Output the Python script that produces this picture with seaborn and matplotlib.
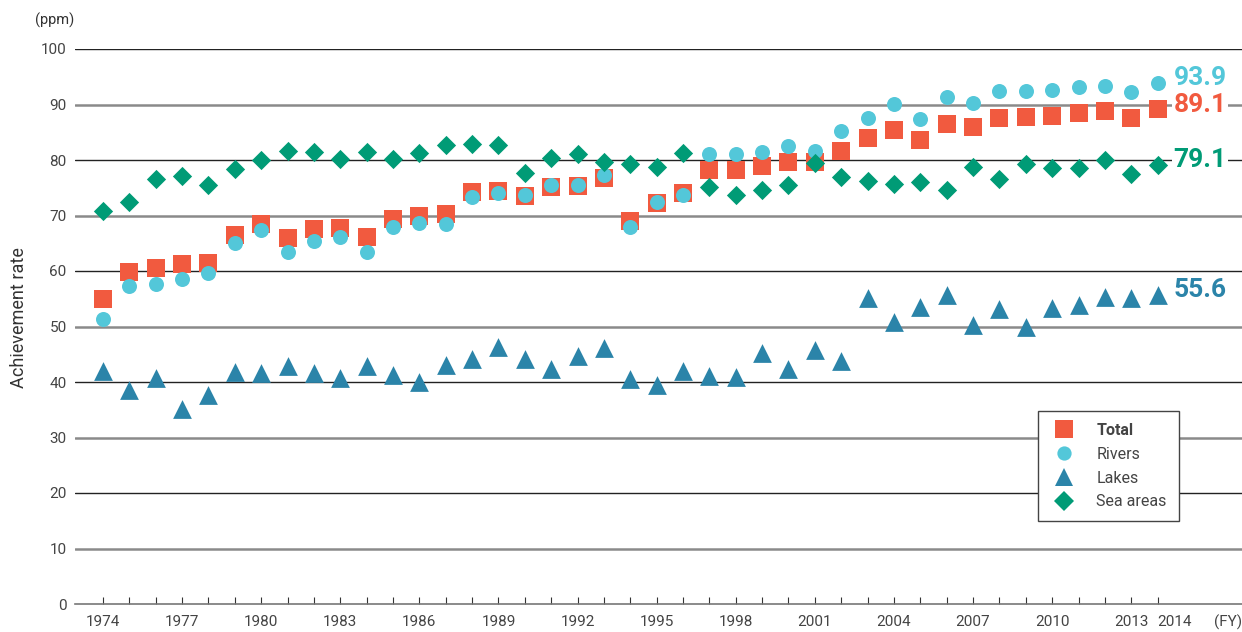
import matplotlib
matplotlib.use("Agg")
import matplotlib.pyplot as plt
from matplotlib.lines import Line2D
import seaborn as sns
import pandas as pd

years = list(range(1974, 2015))

total = [55.0, 59.8, 60.5, 61.3, 61.4, 66.5, 68.5, 65.9, 67.6, 67.7,
         66.1, 69.4, 69.9, 70.3, 74.2, 74.4, 73.5, 75.1, 75.3, 76.8,
         69.0, 72.3, 74.1, 78.2, 78.2, 78.9, 79.6, 79.6, 81.6, 84.0,
         85.4, 83.6, 86.5, 85.9, 87.6, 87.7, 87.9, 88.5, 88.8, 87.6, 89.1]

rivers = [51.4, 57.3, 57.7, 58.6, 59.6, 65.1, 67.4, 63.4, 65.4, 66.1,
          63.4, 67.9, 68.7, 68.5, 73.4, 74.0, 73.7, 75.5, 75.5, 77.3,
          67.9, 72.4, 73.7, 81.1, 81.1, 81.5, 82.5, 81.6, 85.2, 87.6,
          90.1, 87.4, 91.3, 90.2, 92.4, 92.4, 92.6, 93.2, 93.3, 92.2, 93.9]

lakes = [41.9, 38.6, 40.7, 35.2, 37.7, 41.8, 41.6, 42.8, 41.7, 40.8,
         42.8, 41.2, 40.0, 43.1, 44.2, 46.3, 44.2, 42.3, 44.6, 46.1,
         40.6, 39.5, 42.0, 41.0, 40.9, 45.2, 42.3, 45.8, 43.8, 55.2,
         50.9, 53.6, 55.6, 50.3, 53.1, 50.0, 53.3, 53.8, 55.4, 55.1, 55.6]

sea = [70.8, 72.4, 76.6, 77.1, 75.5, 78.4, 80.0, 81.6, 81.4, 80.2,
       81.4, 80.2, 81.3, 82.7, 82.9, 82.7, 77.7, 80.3, 81.1, 79.7,
       79.3, 78.8, 81.2, 75.1, 73.7, 74.6, 75.5, 79.4, 76.9, 76.3,
       75.6, 76.1, 74.6, 78.8, 76.5, 79.2, 78.5, 78.5, 80.0, 77.4, 79.1]

series_names = ["Total", "Rivers", "Lakes", "Sea areas"]
x_tick_labels = [1974, 1977, 1980, 1983, 1986, 1989, 1992, 1995, 1998,
                 2001, 2004, 2007, 2010, 2013, 2014]
y_ticks = [0, 10, 20, 30, 40, 50, 60, 70, 80, 90, 100]

colors = {"Total": "#F15A3F", "Rivers": "#53C7D9",
          "Lakes": "#2B84A9", "Sea areas": "#009B76"}
markers = {"Total": "s", "Rivers": "o", "Lakes": "^", "Sea areas": "D"}
msize = {"Total": 13.5, "Rivers": 10.8, "Lakes": 13.5, "Sea areas": 9.8}

sns.set_theme(style="white")
plt.rcParams["font.family"] = ["Roboto", "DejaVu Sans"]

fig = plt.figure(figsize=(12.42, 6.32), dpi=100)
ax = fig.add_axes([75 / 1242, 1 - 604 / 632, 1 - 75 / 1242, (604 - 49) / 632])

data = {"Total": total, "Rivers": rivers, "Lakes": lakes, "Sea areas": sea}
df = pd.concat([pd.DataFrame({"year": years, "value": v, "series": k})
                for k, v in data.items()], ignore_index=True)

# grid lines
for yv in y_ticks[1:]:
    if (yv // 10) % 2 == 0:
        ax.axhline(yv, color="#222222", lw=1.0, zorder=0)
    else:
        ax.axhline(yv, color="#8a8a8a", lw=1.8, zorder=0)

for name in ["Lakes", "Total", "Rivers", "Sea areas"]:
    sub = df[df["series"] == name]
    sns.scatterplot(data=sub, x="year", y="value", ax=ax,
                    marker=markers[name], color=colors[name],
                    s=msize[name] ** 2, linewidth=0, zorder=3, legend=False)

# end labels
for name in series_names:
    v = data[name][-1]
    ax.text(2014.6, v + 0.9, f"{v:.1f}", color=colors[name], fontsize=19,
            fontweight="bold", va="center", ha="left", zorder=4,
            bbox=dict(facecolor="white", edgecolor="none", pad=1))

ax.set_xlim(1972.94, 2017.2)
ax.set_ylim(0, 100)
ax.set_yticks(y_ticks)
ax.set_yticklabels([str(t) for t in y_ticks], fontsize=11, color="#444444")
ax.set_xticks(years)
ax.set_xticklabels([str(y) if y in x_tick_labels else "" for y in years],
                   fontsize=11, color="#444444")
ax.get_xticklabels()[-1].set_horizontalalignment("left")
ax.get_xticklabels()[-1].set_x(2013.88)
ax.tick_params(axis="x", direction="in", length=5, width=0.8,
               color="#333333", pad=8, bottom=True)
ax.tick_params(axis="y", length=0, pad=6)
for s in ["top", "right", "left"]:
    ax.spines[s].set_visible(False)
ax.spines["bottom"].set_color("#777777")
ax.spines["bottom"].set_linewidth(1.2)
ax.set_xlabel("")
ax.set_ylabel("")

fig.text(19 / 1242, 1 - 318 / 632, "Achievement rate", fontsize=13,
         color="#333333", rotation=90, ha="center", va="center")
fig.text(55 / 1242, 1 - 20 / 632, "(ppm)", fontsize=10.5, color="#333333",
         ha="center", va="center")
fig.text(1228 / 1242, 1 - 622 / 632, "(FY)", fontsize=11, color="#444444",
         ha="center", va="center")

handles = [Line2D([], [], linestyle="none", marker=markers[n],
                  color=colors[n], markersize=msize[n] * (0.95 if n != "Sea areas" else 1.0),
                  markeredgewidth=0) for n in series_names]
leg = ax.legend(handles, series_names, loc="upper left",
                bbox_to_anchor=(1038 / 1242, 1 - 411 / 632),
                bbox_transform=fig.transFigure, fontsize=11.5, frameon=True,
                fancybox=False, edgecolor="#444444", framealpha=1,
                borderpad=0.75, labelspacing=0.55, handletextpad=1.1,
                handlelength=1.8, borderaxespad=0)
leg.get_frame().set_linewidth(1.0)
leg.set_zorder(5)
for t in leg.get_texts():
    t.set_color("#444444")
leg.get_texts()[0].set_fontweight("bold")

fig.savefig("out.png", dpi=100)
